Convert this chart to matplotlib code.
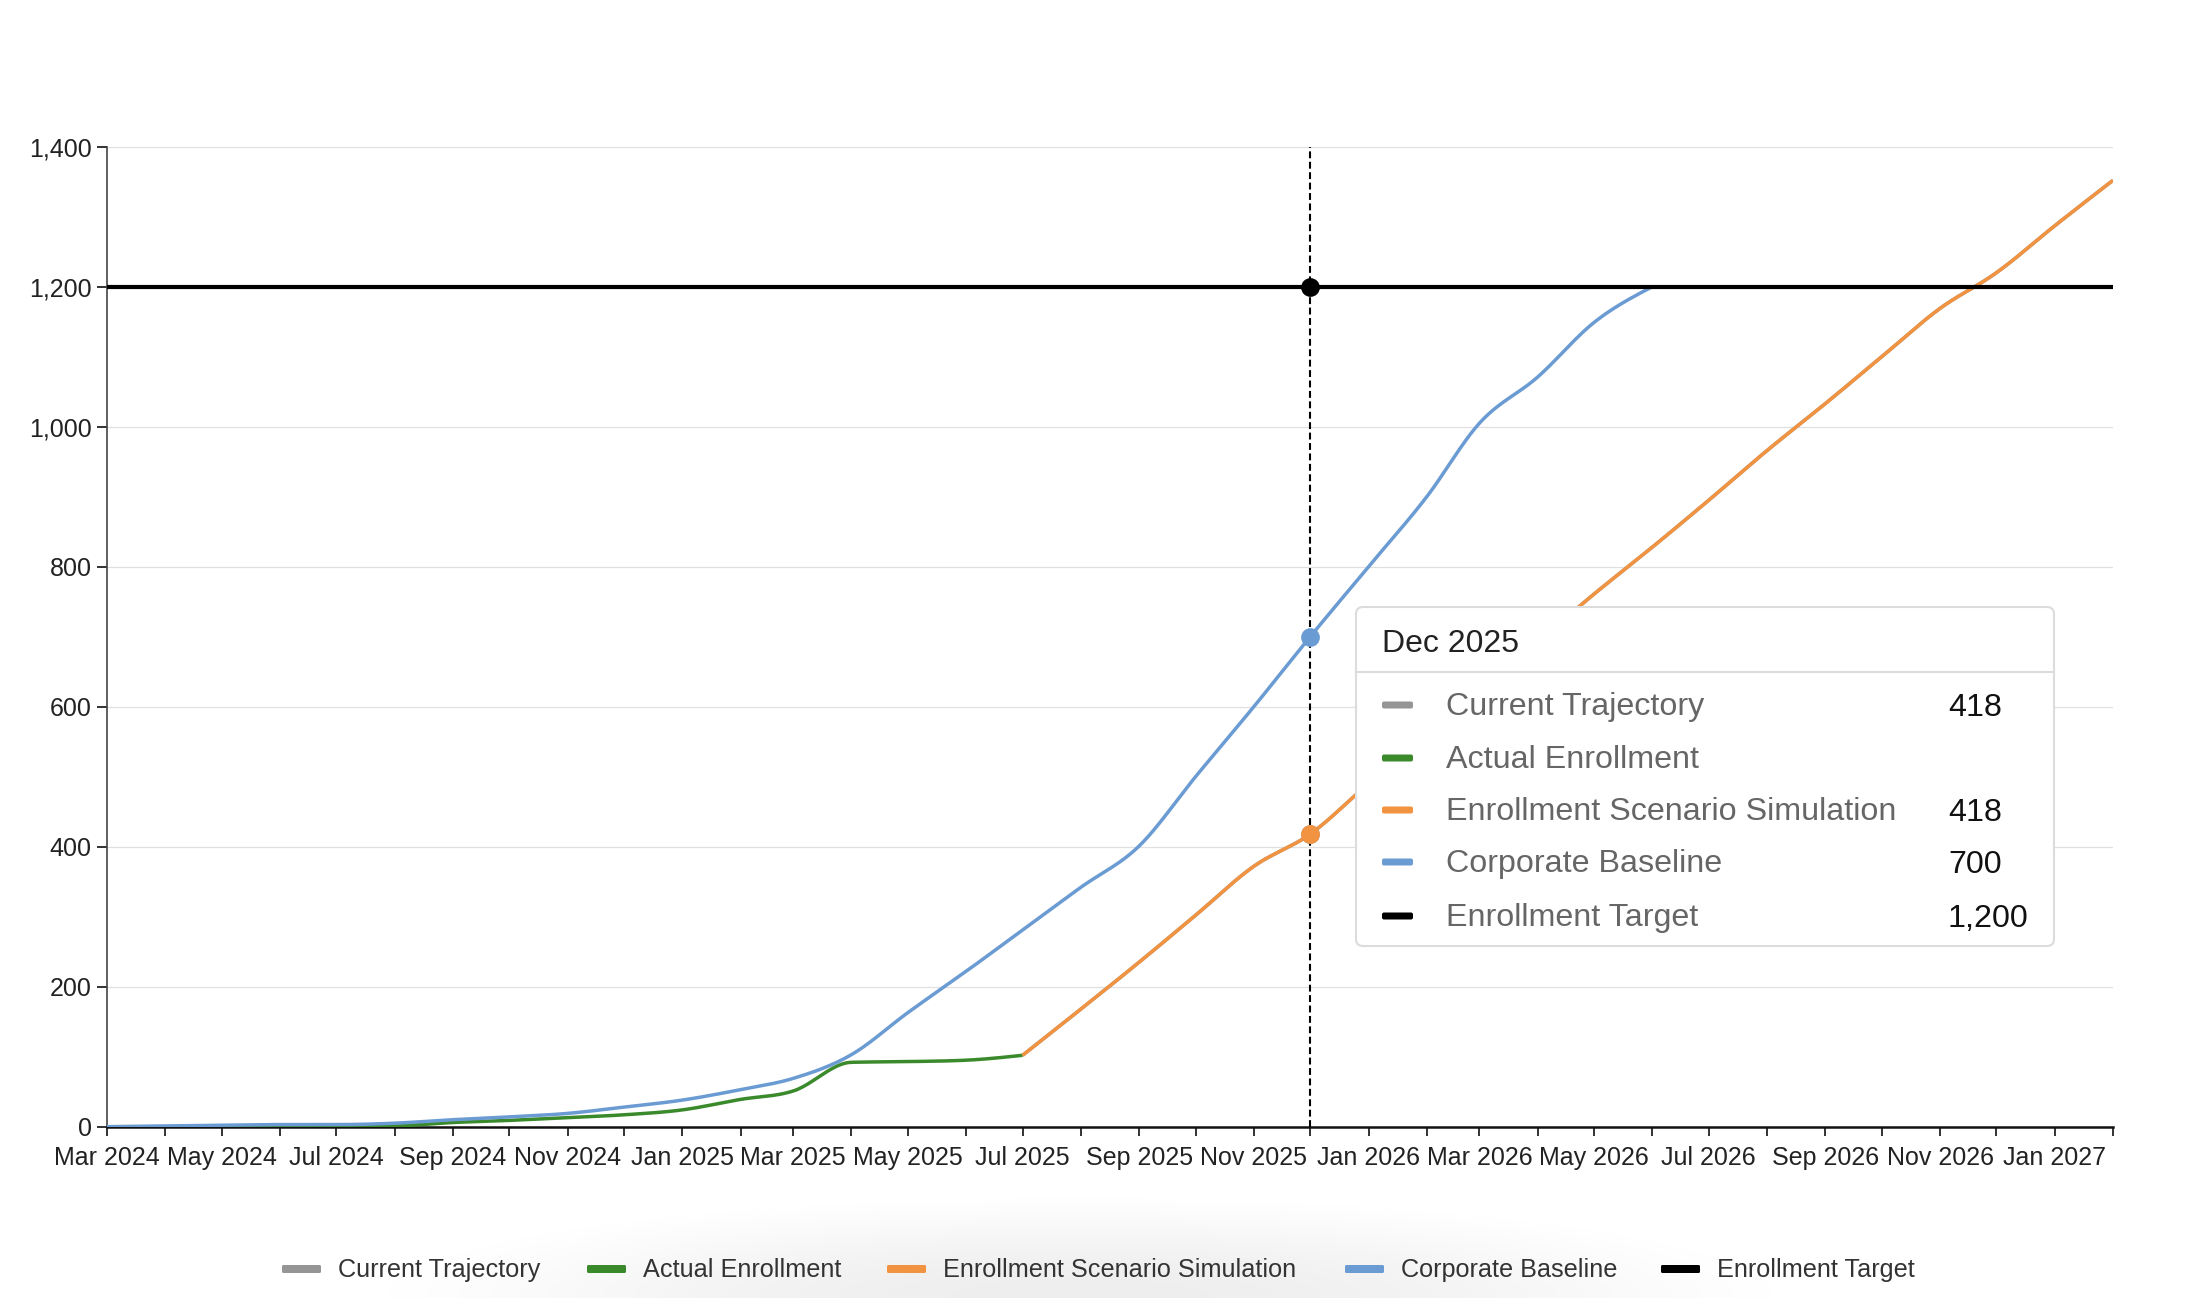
import numpy as np
import pandas as pd
import matplotlib
matplotlib.use('Agg')
import matplotlib.pyplot as plt
import matplotlib.dates as mdates
from matplotlib.patches import FancyBboxPatch
from matplotlib.ticker import FuncFormatter, MultipleLocator

plt.rcParams['font.family'] = ['Liberation Sans', 'DejaVu Sans']

# months on the x axis
months = pd.date_range('2024-03-01', '2027-02-01', freq='MS')
hover_month = '2025-12-01'

# series: (name, first month, monthly values)
trajectory_start = '2025-07-01'
trajectory = [102, 168, 235, 302, 372, 418, 490, 558, 626, 693, 761, 828,
              895, 966, 1033, 1100, 1169, 1220, 1287, 1352]
actual_start = '2024-03-01'
actual = [0, 0, 0, 0, 0, 1, 6, 9, 13, 17, 24, 39, 51, 92, 93, 95, 102]
scenario_start = '2025-07-01'
scenario = [102, 168, 235, 302, 372, 418, 490, 558, 626, 693, 761, 828,
            895, 966, 1033, 1100, 1169, 1220, 1287, 1352]
baseline_start = '2024-03-01'
baseline = [0, 1, 2, 3, 3, 5, 10, 14, 19, 28, 38, 53, 69, 103, 163, 222, 281,
            342, 401, 500, 600, 700, 800, 900, 1005, 1071, 1149, 1200]
target_start = '2024-03-01'
target = [1200] * 36

names = ['Current Trajectory', 'Actual Enrollment', 'Enrollment Scenario Simulation',
         'Corporate Baseline', 'Enrollment Target']
colors = ['#959595', '#3a8a2c', '#f19340', '#6b9bd3', '#000000']


def xdates(start, n):
    i = list(months).index(pd.Timestamp(start))
    return mdates.date2num(months[i:i + n].to_pydatetime())


def smooth(x, y, n=24):
    # monotone cubic (same idea as d3.curveMonotoneX)
    x = np.asarray(x, float)
    y = np.asarray(y, float)
    h = np.diff(x)
    s = np.diff(y) / h
    t = np.zeros(len(y))
    for i in range(1, len(y) - 1):
        p = (s[i - 1] * h[i] + s[i] * h[i - 1]) / (h[i - 1] + h[i])
        t[i] = (np.sign(s[i - 1]) + np.sign(s[i])) * min(abs(s[i - 1]), abs(s[i]), 0.5 * abs(p))
    t[0] = (3 * s[0] - t[1]) / 2
    t[-1] = (3 * s[-1] - t[-2]) / 2
    xs, ys = [], []
    for i in range(len(h)):
        u = np.linspace(0, 1, n, endpoint=(i == len(h) - 1))
        h00 = 2 * u ** 3 - 3 * u ** 2 + 1
        h10 = u ** 3 - 2 * u ** 2 + u
        h01 = -2 * u ** 3 + 3 * u ** 2
        h11 = u ** 3 - u ** 2
        xs.append(x[i] + u * h[i])
        ys.append(h00 * y[i] + h10 * h[i] * t[i] + h01 * y[i + 1] + h11 * h[i] * t[i + 1])
    return np.concatenate(xs), np.concatenate(ys)


W, H = 2202, 1298
fig = plt.figure(figsize=(W / 100, H / 100), dpi=100)
L, R, T, B = 107, 2113, 146.7, 1126.7
ax = fig.add_axes([L / W, 1 - B / H, (R - L) / W, (B - T) / H])

series = [(trajectory_start, trajectory), (actual_start, actual), (scenario_start, scenario),
          (baseline_start, baseline), (target_start, target)]
widths = [2.5, 2.5, 2.5, 2.5, 3.0]

xh = mdates.date2num(pd.Timestamp(hover_month).to_pydatetime())
hover_vals = []
for (start, vals), c, lw in zip(series, colors, widths):
    xs = xdates(start, len(vals))
    sx, sy = smooth(xs, vals)
    ax.plot(sx, sy, color=c, lw=lw, solid_capstyle='butt', zorder=3)
    k = np.where(np.isclose(xs, xh))[0]
    hover_vals.append(vals[k[0]] if len(k) else None)

ax.axvline(xh, color='black', lw=1.5, dashes=(3.3, 1.7), zorder=4)
for v, c in zip(hover_vals, colors):
    if v is not None:
        ax.plot([xh], [v], 'o', color=c, ms=13.5, mec='none', zorder=5)

ax.set_xlim(mdates.date2num(months[0].to_pydatetime()), mdates.date2num(months[-1].to_pydatetime()))
ax.set_ylim(0, 1400)
ax.yaxis.set_major_locator(MultipleLocator(200))
ax.yaxis.set_major_formatter(FuncFormatter(lambda v, p: f'{int(v):,}'))
ax.xaxis.set_major_locator(mdates.MonthLocator(bymonth=[1, 3, 5, 7, 9, 11]))
ax.xaxis.set_major_formatter(mdates.DateFormatter('%b %Y'))
ax.xaxis.set_minor_locator(mdates.MonthLocator())
ax.grid(axis='y', color='#e0e0e0', lw=0.9, zorder=0)
ax.set_axisbelow(True)
for sp in ['top', 'right']:
    ax.spines[sp].set_visible(False)
ax.spines['left'].set_color('#444444')
ax.spines['left'].set_linewidth(1.2)
ax.spines['bottom'].set_color('#111111')
ax.spines['bottom'].set_linewidth(1.8)
ax.tick_params(axis='y', length=7, width=1.3, color='#222222', labelsize=18,
               labelcolor='#222222', pad=4)
ax.tick_params(axis='x', which='both', length=6.5, width=1.3, color='#222222',
               labelsize=18, labelcolor='#222222', pad=7.5)

# overlay in pixel coordinates for the tooltip and the legend
ov = fig.add_axes([0, 0, 1, 1])
ov.axis('off')

# faint shadow under the legend
gx, gy = np.meshgrid(np.linspace(0, W, 440), np.linspace(1180, H, 60))
shade = np.clip(1 - ((gx - 1080) / 760) ** 2 - ((gy - H) / 110) ** 2, 0, 1) ** 1.6
rgba = np.zeros(gx.shape + (4,))
rgba[..., 3] = shade * 0.07
ov.imshow(rgba, extent=[0, W, H, 1180], aspect='auto', zorder=0)
ov.set_xlim(0, W)
ov.set_ylim(H, 0)

# tooltip
bx0, by0, bx1, by1 = 1356, 607, 2054, 946
ov.add_patch(FancyBboxPatch((bx0, by0), bx1 - bx0, by1 - by0,
                            boxstyle='round,pad=0,rounding_size=7',
                            fc='white', ec='#dcdcdc', lw=1.5, zorder=5))
ov.plot([bx0, bx1], [672, 672], color='#dcdcdc', lw=1.5, zorder=6)
ov.text(1382, 644, pd.Timestamp(hover_month).strftime('%b %Y'), fontsize=23,
        color='#222222', va='center', ha='left', zorder=7)
row_y = [705, 758, 810, 862, 916]
for yy, name, c, v in zip(row_y, names, colors, hover_vals):
    ov.add_patch(FancyBboxPatch((1382, yy - 3.5), 31, 7, boxstyle='round,pad=0,rounding_size=2',
                                fc=c, ec='none', zorder=7))
    ov.text(1446, yy + 2, name, fontsize=23.2, color='#666666', va='center', ha='left', zorder=7)
    if v is not None:
        ov.text(1948, yy + 3, f'{v:,}', fontsize=23.2, color='#111111', va='center', ha='left', zorder=7)

# legend along the bottom
leg_sw = [282, 587, 887, 1345, 1661]
ly = 1269
for x0, name, c in zip(leg_sw, names, colors):
    ov.add_patch(FancyBboxPatch((x0, ly - 4), 39, 8, boxstyle='round,pad=0,rounding_size=1.5',
                                fc=c, ec='none', zorder=7))
    ov.text(x0 + 56, ly + 1, name, fontsize=18.2, color='#333333', va='center', ha='left', zorder=7)

fig.savefig('out.png', dpi=100)
